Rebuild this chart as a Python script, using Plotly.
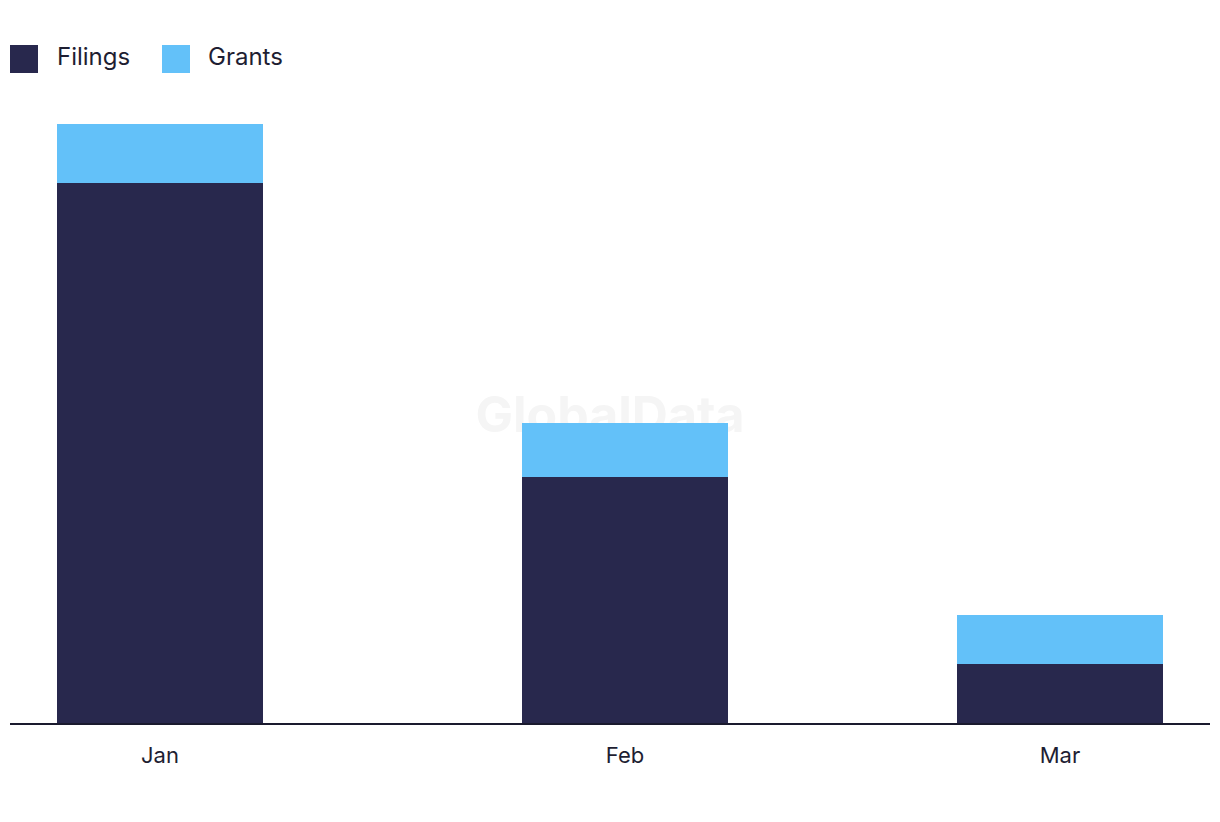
import plotly.graph_objects as go

months = ["2024-01-01", "2024-02-01", "2024-03-01"]
filings = [110, 50, 12]
grants = [12, 11, 10]

navy = "#28284d"
sky = "#63c1f9"
text_col = "#1e1e32"
day_ms = 86400000

fig = go.Figure()
fig.add_trace(go.Bar(x=months, y=filings, name="Filings", marker_color=navy,
                     marker_line_width=0, width=13.73 * day_ms))
fig.add_trace(go.Bar(x=months, y=grants, name="Grants", marker_color=sky,
                     marker_line_width=0, width=13.73 * day_ms))

# watermark behind the bars
fig.add_shape(type="rect", xref="paper", yref="paper", x0=0.3, x1=0.7, y0=0.45, y1=0.55,
              line_width=0, fillcolor="rgba(0,0,0,0)", layer="below",
              label=dict(text="<b>GlobalData</b>", font=dict(size=50, color="#f5f5f5",
                                                             family="Inter")))

# legend drawn by hand to get the large swatches
legend_items = [("Filings", navy, 10, 55), ("Grants", sky, 162, 206)]
for label, col, sx, tx in legend_items:
    fig.add_shape(type="rect", xref="paper", yref="paper",
                  x0=(sx - 10) / 1200, x1=(sx + 18) / 1200,
                  y0=1 + (100 - 73) / 623, y1=1 + (100 - 45) / 623,
                  fillcolor=col, line_width=0)
    fig.add_annotation(text=label, xref="paper", yref="paper",
                       x=(tx - 10) / 1200, y=1 + (100 - 57) / 623,
                       xanchor="left", yanchor="middle", showarrow=False,
                       font=dict(size=24, color=text_col, family="Inter"))

fig.update_layout(
    barmode="stack", showlegend=False, width=1220, height=822,
    margin=dict(l=2, r=18, t=92, b=107),
    plot_bgcolor="white", paper_bgcolor="white",
    font=dict(family="Inter", color=text_col, size=22),
)
fig.update_xaxes(type="date", range=["2023-12-22", "2024-03-11"], tickformat="%b",
                 dtick="M1", tick0="2024-01-01", showgrid=False, showline=True,
                 linecolor="#1a1a2e", linewidth=2, ticks="", zeroline=False,
                 ticklabelstandoff=12, tickfont=dict(size=22, color=text_col))
fig.update_yaxes(range=[0, 126.88], visible=False, showgrid=False)

fig.write_html("out.html")
